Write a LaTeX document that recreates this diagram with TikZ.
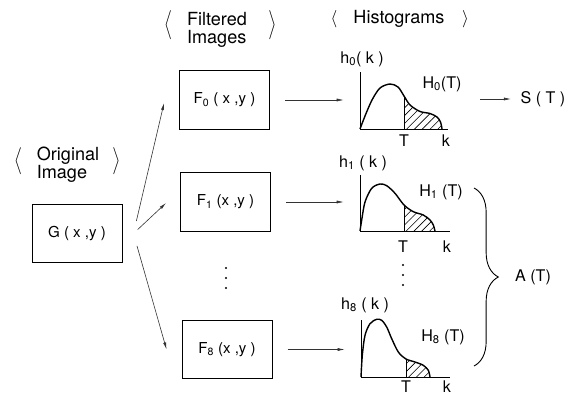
\documentclass[tikz,border=0pt]{standalone}
\usepackage{exscale}
\usepackage{graphicx}
\usepackage{fontspec}
\setmainfont{TeX Gyre Heros}
\usetikzlibrary{arrows.meta,positioning,calc,patterns.meta,decorations.pathreplacing}

% one histogram: #1 origin, #2 axis height, #3 axis length, #4 threshold offset, #5 curve points
\newcommand{\histo}[5]{%
  \begin{scope}[shift={(#1)}]
    \begin{scope}
      \clip plot[smooth] coordinates {#5} -- cycle;
      \fill[hatch] (#4,1) rectangle (#3,-#2);
      \draw[axis] (#4,0) -- (#4,-#2);
    \end{scope}
    \draw[axis] (0,-#2) -- (0,0) -- (#3,0);
    \draw[curve] plot[smooth] coordinates {#5};
  \end{scope}}
\newcommand{\brk}[2]{\raisebox{-5pt}[10pt][17pt]{\scalebox{1}[#2]{$\left#1\vcenter{\hbox{\rule{0pt}{22pt}}}\right.$}}}

\begin{document}
\begin{tikzpicture}[x=0.035cm, y=-0.035cm,
    box/.style={rectangle, draw, line width=0.9pt, minimum width=3.15cm, minimum height=2.06cm,
                font=\fontsize{15}{15}\selectfont},
    head/.style={align=left, inner sep=0pt, font=\fontsize{18}{18}\selectfont},
    brkt/.style={inner sep=0pt, font=\fontsize{16}{16}\selectfont},
    lbl/.style={inner sep=1pt, font=\fontsize{16}{16}\selectfont},
    arrow/.style={-{Latex[length=7pt,width=3pt]}, line width=0.6pt, black!80},
    axis/.style={line width=0.8pt},
    curve/.style={line width=1.4pt},
    hatch/.style={pattern={Lines[angle=45,distance=5.5pt,line width=0.6pt]}},
    brace/.style={decorate, decoration={brace, amplitude=0.85cm}, line width=0.9pt}]
\useasboundingbox (0,0) rectangle (583,403);
% column headings
\node[head] (origtxt) at (68,165) {Original\\Image};
\node[brkt, left=0.45cm of origtxt] (origL) {\brk{\langle}{1.3}};
\node[brkt, right=0.45cm of origtxt] (origR) {\brk{\rangle}{1.3}};
\node[head] (filttxt) at (217,30) {Filtered\\Images};
\node[brkt, left=0.45cm of filttxt] (filtL) {\brk{\langle}{1.4}};
\node[brkt, right=0.75cm of filttxt] (filtR) {\brk{\rangle}{1.4}};
\node[head] (histtxt) at (399,19) {Histograms};
\node[brkt, left=0.55cm of histtxt] (histL) {$\langle$};
\node[brkt, right=0.6cm of histtxt] (histR) {$\rangle$};
% image boxes
\node[box] (G) at (77,233.5) {G ( x ,y )};
\node[box] (F0) at (224.5,100) {F\textsubscript{0} ( x ,y )};
\node[box] (F1) at (225.5,202) {F\textsubscript{1} (x ,y )};
\node[box] (F8) at (227,349.5) {F\textsubscript{8} (x ,y )};
\foreach \yy in {268,278,288} \fill (226,\yy) circle[radius=1.1pt];
% fan of filters
\coordinate (fan) at ($(G.east)+(11,0)$);
\foreach \f/\dx/\dy/\s in {F0/-15/3/0.45, F1/-14/1/0.2, F8/-15/0/0.45}
  \draw[arrow, shorten <=\s cm] (fan) -- ($(\f.west)+(\dx,\dy)$);
% histograms
\coordinate (o0) at (360,129);
\coordinate (o1) at (360,231);
\coordinate (o8) at (361,377);
\histo{o0}{57}{88}{44}{(0,0) (5,-13) (12,-29) (20,-41) (30,-45) (38,-42) (44,-33) (50,-24) (60,-17.5) (70,-15.5) (77,-12) (80.5,-7) (82,0)}
\histo{o1}{56}{90}{44}{(0,0) (1.7,-11) (5,-29) (11.7,-42.7) (20,-47) (26.7,-45.3) (35,-37.7) (44,-26) (53.3,-19.3) (63.3,-16) (70,-11) (73.3,-6) (75,0)}
\histo{o8}{57}{89}{45}{(0,0) (1.3,-21.7) (4,-41.7) (9,-53.3) (15.7,-57.7) (20.7,-56.7) (25.7,-50) (30.7,-38.3) (37.3,-25) (45,-18) (54,-15) (62.3,-11.7) (67.3,-6.7) (69,0)}
\foreach \yy in {265,275,285} \fill (403,\yy) circle[radius=1.1pt];
% filtered image -> histogram
\foreach \f/\o in {F0/o0, F1/o1, F8/o8}
  \draw[arrow, shorten <=0.53cm, shorten >=0.57cm] (\f.east) -- (\f.east -| \o);
% histogram labels
\node[lbl] (h0) at (362,59) {h\textsubscript{0}( k )};
\node[lbl] (H0) at (442,84) {H\textsubscript{0}(T)};
\node[lbl] (T0) at (404,141) {T};
\node[lbl] (k0) at (446,141) {k};
\node[lbl] (h1) at (363,163) {h\textsubscript{1} ( k )};
\node[lbl] (H1) at (441,192) {H\textsubscript{1} (T)};
\node[lbl] (T1) at (403,247) {T};
\node[lbl] (k1) at (447,247) {k};
\node[lbl] (h8) at (365,305) {h\textsubscript{8} ( k )};
\node[lbl] (H8) at (443,337) {H\textsubscript{8} (T)};
\node[lbl] (T8) at (406,387) {T};
\node[lbl] (k8) at (447,387) {k};
% outputs
\node[lbl] (S) at (543,99) {S ( T )};
\coordinate (s0) at ($(o0)+(120,-30)$);
\draw[arrow, shorten >=0.3cm] (s0) -- (S.west);
\draw[brace] (474,188) -- (474,366);
\node[lbl] (A) at (533,277) {A (T)};
\end{tikzpicture}
\end{document}
